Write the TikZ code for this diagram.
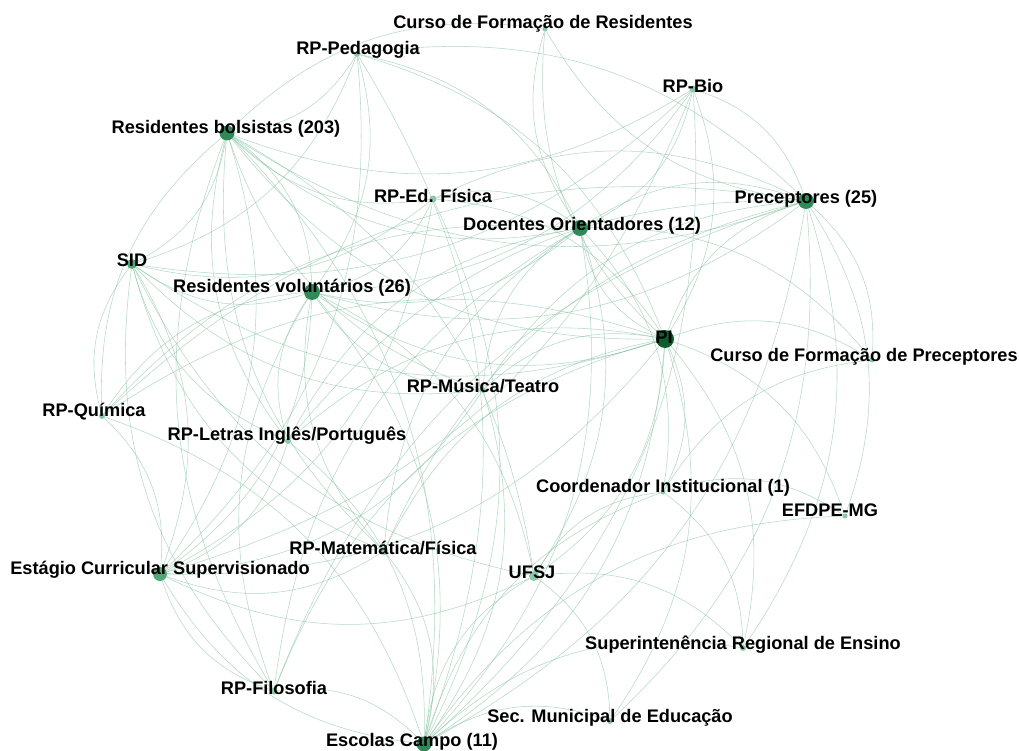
\documentclass[tikz,border=0pt]{standalone}
\usepackage{fontspec}
\setmainfont{Liberation Sans}
\usetikzlibrary{backgrounds}
\definecolor{edgecol}{RGB}{120,186,152}
\definecolor{gDark}{RGB}{12,94,44}
\definecolor{gMid}{RGB}{46,139,87}
\definecolor{gSoft}{RGB}{80,168,122}
\definecolor{gLight}{RGB}{140,200,168}
\tikzset{
  vdot/.style={circle,inner sep=0pt,minimum size=#1},
  lab/.style={font=\bfseries\fontsize{18.2}{19}\selectfont,inner sep=0pt,text=black},
  edge/.style={draw=edgecol,line width=0.55pt,draw opacity=0.55},
}
\begin{document}
\begin{tikzpicture}[x=1pt,y=-1pt]
\useasboundingbox (0,0) rectangle (1019,751);
% dots
\node[vdot=5,fill=gLight] (cfr) at (545,29) {};
\node[vdot=6,fill=gLight] (ped) at (357,54) {};
\node[vdot=7,fill=gLight] (bio) at (693,89) {};
\node[vdot=15,fill=gMid] (rb) at (227,133) {};
\node[vdot=7,fill=gLight] (edf) at (433,199) {};
\node[vdot=16,fill=gMid] (doc) at (580,228) {};
\node[vdot=16,fill=gMid] (pre) at (806,201) {};
\node[vdot=10,fill=gSoft] (sid) at (132,264) {};
\node[vdot=16,fill=gMid] (rv) at (312,292) {};
\node[vdot=18,fill=gDark] (pi) at (665,339) {};
\node[vdot=5,fill=gLight] (cfp) at (872,360) {};
\node[vdot=6,fill=gLight] (mus) at (483,390) {};
\node[vdot=6,fill=gLight] (qui) at (102,416) {};
\node[vdot=6,fill=gLight] (let) at (288,441) {};
\node[vdot=5,fill=gLight] (coo) at (663,492) {};
\node[vdot=5,fill=gLight] (efd) at (845,516) {};
\node[vdot=8,fill=gLight] (mat) at (384,551) {};
\node[vdot=10,fill=gLight] (ufsj) at (534,576) {};
\node[vdot=14,fill=gSoft] (est) at (160,574) {};
\node[vdot=6,fill=gLight] (sre) at (743,648) {};
\node[vdot=7,fill=gLight] (fil) at (274,691) {};
\node[vdot=6,fill=gLight] (sme) at (610,721) {};
\node[vdot=15,fill=gMid] (esc) at (424,744) {};
% edges
\begin{scope}[on background layer]
\foreach \r in {ped,bio,edf,mus,qui,let,mat,fil}{
  \foreach \t in {rb,rv,doc,pre,pi,esc,est,sid}{
    \draw[edge] (\r) to[bend left=26] (\t);
  }
}
\foreach \a/\b in {pi/cfr,pi/cfp,pi/coo,pi/ufsj,pi/efd,pi/sre,pi/sme,pi/doc,pi/pre,pi/rb,pi/rv,pi/esc,pi/est,pi/sid,
  doc/rb,doc/rv,doc/pre,doc/esc,doc/coo,doc/ufsj,doc/cfr,doc/cfp,
  pre/esc,pre/cfp,pre/rb,pre/rv,pre/efd,pre/sre,pre/sme,pre/cfr,
  rb/rv,rb/sid,rb/est,rb/cfr,rb/esc,rb/ufsj,
  rv/sid,rv/est,rv/esc,rv/ufsj,
  esc/sre,esc/sme,esc/ufsj,esc/coo,esc/est,esc/efd,
  ufsj/coo,ufsj/sid,ufsj/est,ufsj/sre,ufsj/sme,
  sid/est,coo/sre,coo/efd,coo/cfp}{
  \draw[edge] (\a) to[bend left=26] (\b);
}
\end{scope}
% labels
\node[lab] (cfr-l) at (543,24) {Curso de Formação de Residentes};
\node[lab] (ped-l) at (358,50) {RP-Pedagogia};
\node[lab] (bio-l) at (693,86) {RP-Bio};
\node[lab] (rb-l) at (226,129) {Residentes bolsistas (203)};
\node[lab] (edf-l) at (433,196) {RP-Ed. Física};
\node[lab] (doc-l) at (582,226) {Docentes Orientadores (12)};
\node[lab] (pre-l) at (806,199) {Preceptores (25)};
\node[lab] (sid-l) at (132,260) {SID};
\node[lab] (rv-l) at (292,288) {Residentes voluntários (26)};
\node[lab] (pi-l) at (664,337) {PI};
\node[lab] (cfp-l) at (864,357) {Curso de Formação de Preceptores};
\node[lab] (mus-l) at (483,386) {RP-Música/Teatro};
\node[lab] (qui-l) at (94,412) {RP-Química};
\node[lab] (let-l) at (287,436) {RP-Letras Inglês/Português};
\node[lab] (coo-l) at (663,488) {Coordenador Institucional (1)};
\node[lab] (efd-l) at (830,510) {EFDPE-MG};
\node[lab] (mat-l) at (383,548) {RP-Matemática/Física};
\node[lab] (est-l) at (160,570) {Estágio Curricular Supervisionado};
\node[lab] (ufsj-l) at (532,572) {UFSJ};
\node[lab] (sre-l) at (743,645) {Superintenência Regional de Ensino};
\node[lab] (fil-l) at (274,688) {RP-Filosofia};
\node[lab] (sme-l) at (610,718) {Sec. Municipal de Educação};
\node[lab] (esc-l) at (412,742) {Escolas Campo (11)};
\end{tikzpicture}
\end{document}
